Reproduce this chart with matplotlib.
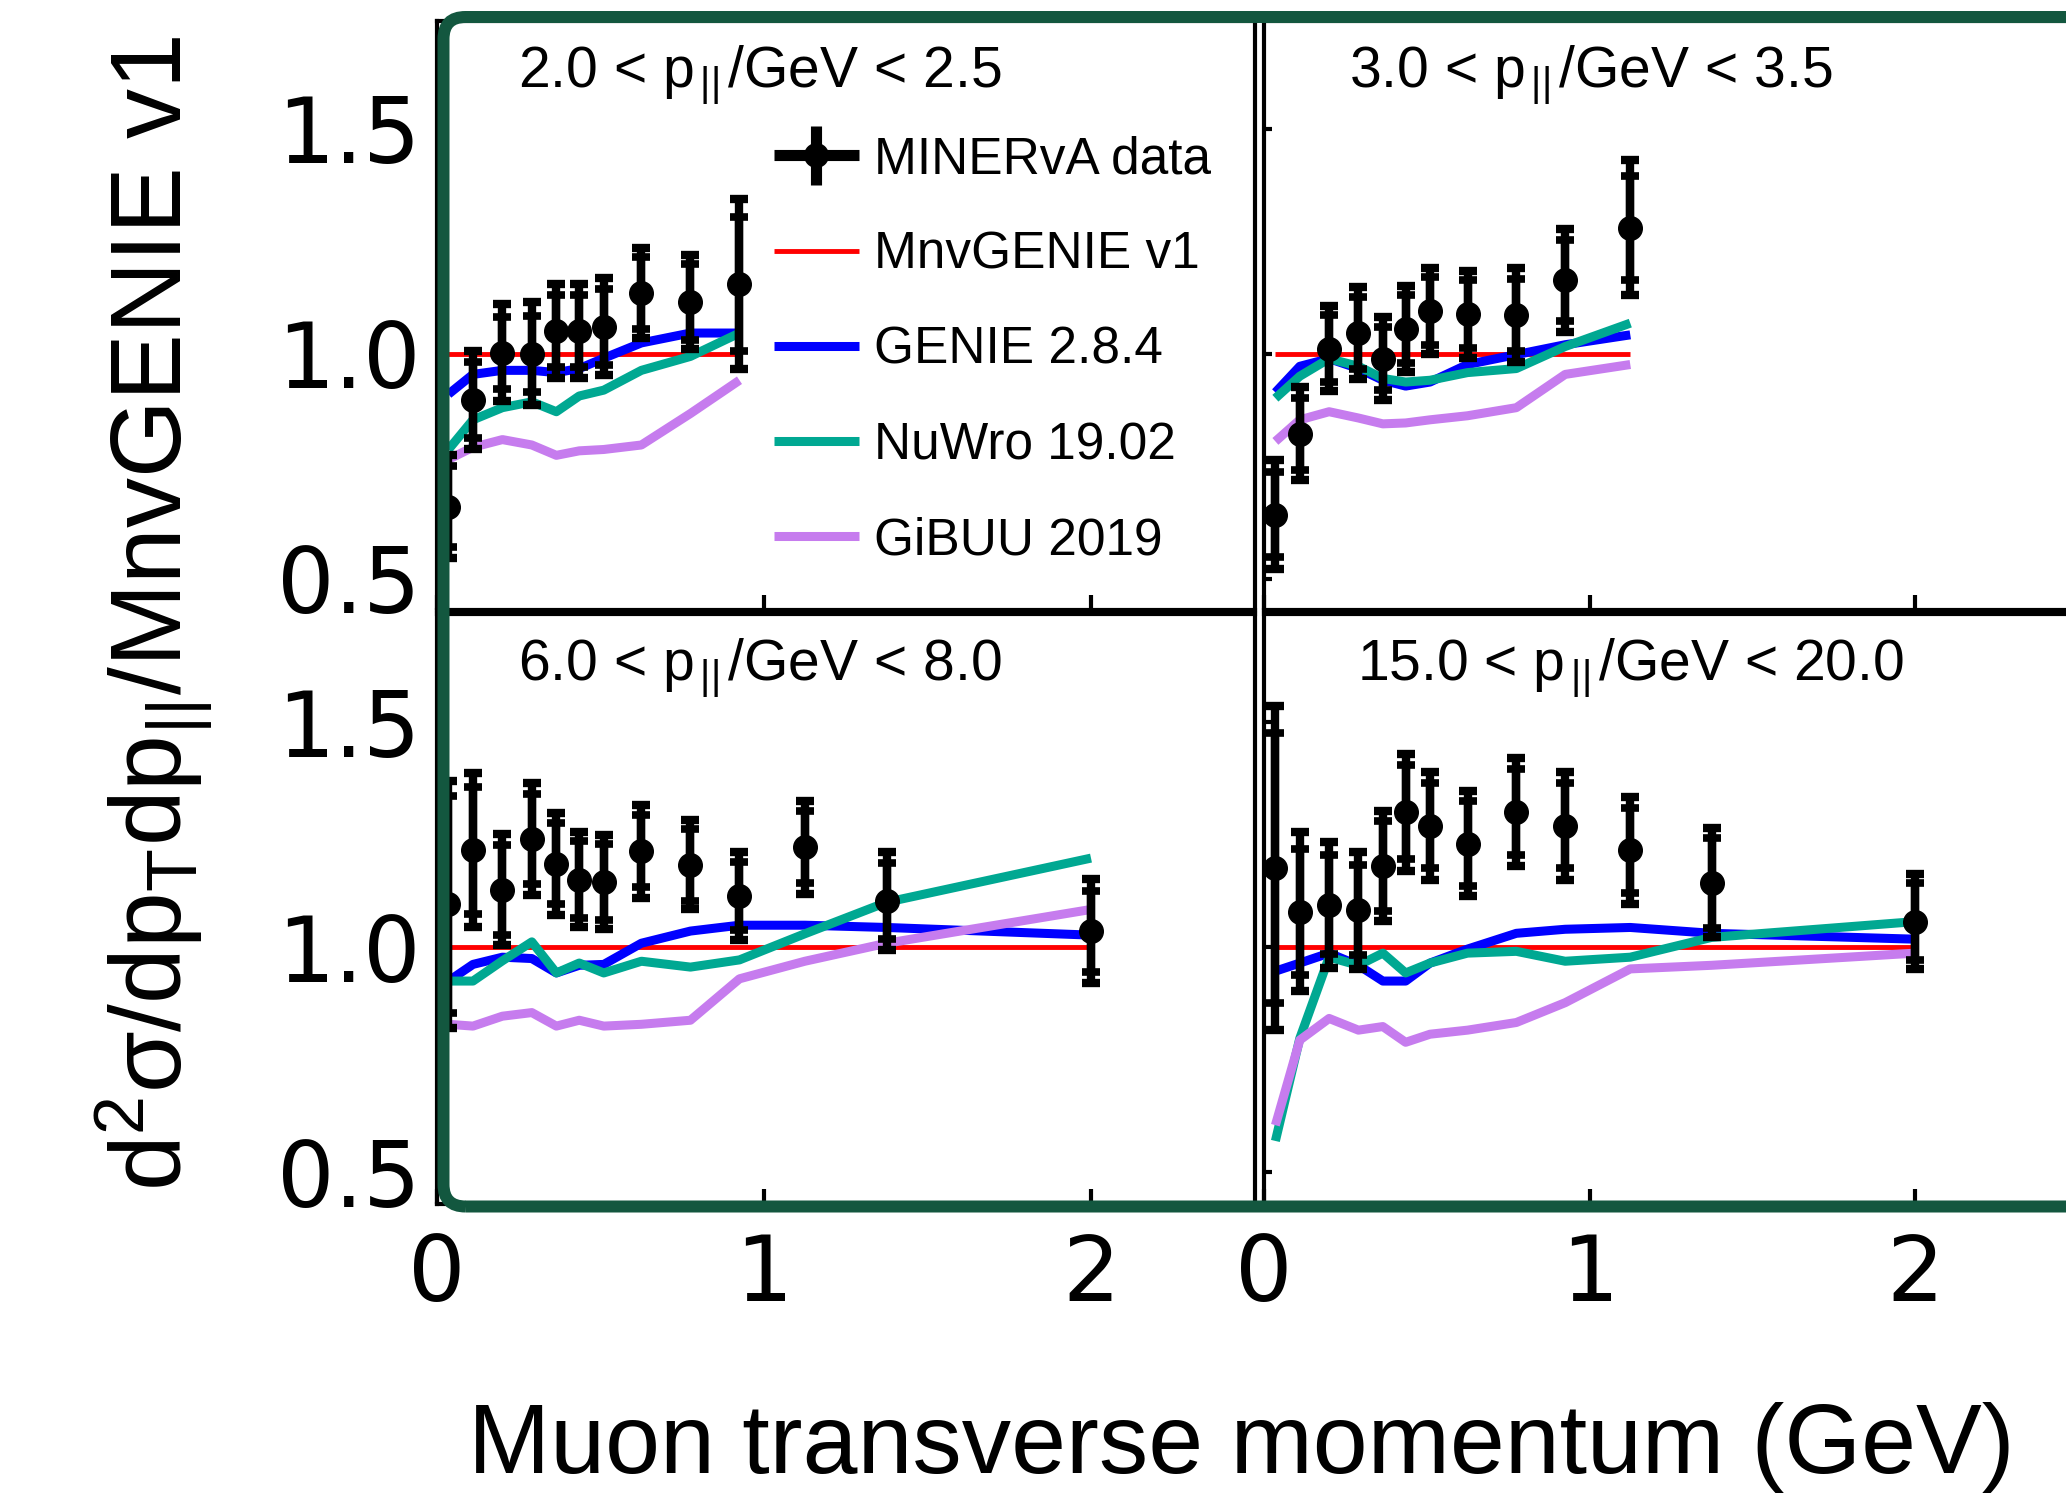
"""Ratio of MINERvA pT cross sections to MnvGENIE v1, four p|| slices."""

import matplotlib
import numpy as np

matplotlib.use("Agg")
import matplotlib.pyplot as plt  # noqa: E402
import matplotlib.transforms as mtransforms  # noqa: E402
from matplotlib.container import ErrorbarContainer  # noqa: E402
from matplotlib.legend_handler import HandlerErrorbar  # noqa: E402
from matplotlib.patches import FancyBboxPatch  # noqa: E402

plt.rcParams["font.family"] = ["Liberation Sans", "DejaVu Sans"]
plt.rcParams["mathtext.fontset"] = "custom"
plt.rcParams["mathtext.rm"] = "Liberation Sans"
plt.rcParams["mathtext.it"] = "Liberation Sans:italic"

# ---------------------------------------------------------------------------
# Data
# ---------------------------------------------------------------------------

PT_CENTERS = [0.035, 0.11, 0.2, 0.29, 0.365, 0.435, 0.51, 0.625, 0.775,
              0.925, 1.125, 1.375, 2.0]

PANEL_TITLES = [
    r"2.0 < p$_{\,||\,}$/GeV < 2.5",
    r"3.0 < p$_{\,||\,}$/GeV < 3.5",
    r"6.0 < p$_{\,||\,}$/GeV < 8.0",
    r"15.0 < p$_{\,||\,}$/GeV < 20.0",
]

SERIES_LABELS = ["MINERvA data", "MnvGENIE v1", "GENIE 2.8.4",
                 "NuWro 19.02", "GiBUU 2019"]

# 2.0 < p|| < 2.5  (10 bins)
DATA_A = [0.66, 0.897, 1.002, 1.0, 1.05, 1.05, 1.06, 1.135, 1.115, 1.155]
TOT_A = [0.115, 0.11, 0.108, 0.115, 0.105, 0.105, 0.108, 0.10, 0.105, 0.19]
STAT_A = [0.09, 0.085, 0.08, 0.085, 0.08, 0.08, 0.085, 0.08, 0.085, 0.15]
MNV_A = [1.0, 1.0, 1.0, 1.0, 1.0, 1.0, 1.0, 1.0, 1.0, 1.0]
GENIE_A = [0.91, 0.954, 0.963, 0.963, 0.958, 0.967, 0.99, 1.024, 1.046, 1.046]
NUWRO_A = [0.787, 0.853, 0.88, 0.893, 0.871, 0.906, 0.919, 0.963, 0.994, 1.046]
GIBUU_A = [0.765, 0.792, 0.809, 0.797, 0.774, 0.784, 0.787, 0.797, 0.867, 0.941]

# 3.0 < p|| < 3.5  (11 bins)
DATA_B = [0.642, 0.822, 1.011, 1.046, 0.989, 1.055, 1.095, 1.088, 1.086,
          1.163, 1.28]
TOT_B = [0.121, 0.103, 0.095, 0.103, 0.092, 0.095, 0.096, 0.097, 0.105,
         0.115, 0.15]
STAT_B = [0.095, 0.08, 0.075, 0.08, 0.07, 0.075, 0.075, 0.075, 0.08, 0.09,
          0.115]
MNV_B = [1.0, 1.0, 1.0, 1.0, 1.0, 1.0, 1.0, 1.0, 1.0, 1.0, 1.0]
GENIE_B = [0.914, 0.972, 0.989, 0.967, 0.941, 0.928, 0.937, 0.976, 0.998,
           1.02, 1.042]
NUWRO_B = [0.901, 0.95, 0.989, 0.972, 0.945, 0.937, 0.941, 0.958, 0.967,
           1.016, 1.068]
GIBUU_B = [0.805, 0.853, 0.871, 0.857, 0.844, 0.846, 0.853, 0.862, 0.88,
           0.954, 0.976]

# 6.0 < p|| < 8.0  (13 bins)
DATA_C = [1.095, 1.215, 1.128, 1.24, 1.185, 1.15, 1.145, 1.213, 1.183,
          1.114, 1.222, 1.103, 1.036]
TOT_C = [0.275, 0.171, 0.123, 0.125, 0.114, 0.105, 0.105, 0.103, 0.099,
         0.097, 0.103, 0.108, 0.115]
STAT_C = [0.24, 0.14, 0.10, 0.10, 0.09, 0.085, 0.085, 0.08, 0.08, 0.075,
          0.08, 0.085, 0.09]
MNV_C = [1.0, 1.0, 1.0, 1.0, 1.0, 1.0, 1.0, 1.0, 1.0, 1.0, 1.0, 1.0, 1.0]
GENIE_C = [0.925, 0.962, 0.978, 0.975, 0.943, 0.96, 0.962, 1.009, 1.036,
           1.049, 1.049, 1.044, 1.027]
NUWRO_C = [0.925, 0.925, 0.97, 1.012, 0.943, 0.965, 0.943, 0.969, 0.956,
           0.972, 1.03, 1.1, 1.198]
GIBUU_C = [0.829, 0.825, 0.847, 0.855, 0.825, 0.838, 0.825, 0.829, 0.838,
           0.93, 0.969, 1.009, 1.084]

# 15.0 < p|| < 20.0  (13 bins)
DATA_D = [1.176, 1.079, 1.094, 1.082, 1.18, 1.30, 1.27, 1.23, 1.30, 1.27,
          1.215, 1.143, 1.057]
TOT_D = [0.36, 0.176, 0.14, 0.13, 0.122, 0.13, 0.12, 0.117, 0.12, 0.12,
         0.118, 0.121, 0.105]
STAT_D = [0.30, 0.14, 0.11, 0.10, 0.10, 0.105, 0.095, 0.095, 0.095, 0.095,
          0.095, 0.10, 0.085]
MNV_D = [1.0, 1.0, 1.0, 1.0, 1.0, 1.0, 1.0, 1.0, 1.0, 1.0, 1.0, 1.0, 1.0]
GENIE_D = [0.947, 0.965, 0.987, 0.96, 0.925, 0.925, 0.965, 0.996, 1.031,
           1.04, 1.044, 1.031, 1.018]
NUWRO_D = [0.57, 0.798, 0.978, 0.96, 0.987, 0.943, 0.965, 0.987, 0.991,
           0.969, 0.978, 1.022, 1.057]
GIBUU_D = [0.605, 0.794, 0.842, 0.816, 0.824, 0.789, 0.807, 0.816, 0.833,
           0.877, 0.952, 0.96, 0.987]

XTICKS = [0, 1, 2]
YTICKS = [0.5, 1.0, 1.5]
YTICK_LABELS = ["0.5", "1.0", "1.5"]

# ---------------------------------------------------------------------------
# Style / layout (pixels of the 2066 x 1494 canvas)
# ---------------------------------------------------------------------------

W, H = 2066, 1494
COLORS = {"mnv": "#ff0000", "genie": "#0000ff", "nuwro": "#00a892",
          "gibuu": "#c67cee"}
FRAME_GREEN = "#13573f"

# (left, top, right, bottom) for each panel
PANEL_BOXES = [(437, 21, 1254.5, 610), (1264, 21, 2078, 610),
               (437, 614, 1254.5, 1204), (1264, 614, 2078, 1204)]
TITLE_X = [0.099, 0.105, 0.099, 0.114]


def px_axes(fig, left, top, right, bottom):
    return fig.add_axes([left / W, 1 - bottom / H, (right - left) / W,
                         (bottom - top) / H])


def draw_panel(ax, data, tot, stat, mnv, genie, nuwro, gibuu):
    n = len(data)
    x = PT_CENTERS[:n]
    kw = dict(solid_capstyle="butt")
    l_mnv, = ax.plot(x, mnv, color=COLORS["mnv"], lw=3.5, zorder=2, **kw)
    l_gen, = ax.plot(x, genie, color=COLORS["genie"], lw=6.5, zorder=3, **kw)
    l_nuw, = ax.plot(x, nuwro, color=COLORS["nuwro"], lw=6.5, zorder=3, **kw)
    l_gib, = ax.plot(x, gibuu, color=COLORS["gibuu"], lw=6.5, zorder=3, **kw)
    ax.errorbar(x, data, yerr=tot, fmt="none", ecolor="k", elinewidth=6,
                capsize=6.5, capthick=6, zorder=5)
    ax.errorbar(x, data, yerr=stat, fmt="o", color="k", ms=17, elinewidth=6,
                capsize=6.5, capthick=5.5, zorder=6)
    return [l_mnv, l_gen, l_nuw, l_gib]


fig = plt.figure(figsize=(W / 100, H / 100), dpi=100)

panels = [
    (DATA_A, TOT_A, STAT_A, MNV_A, GENIE_A, NUWRO_A, GIBUU_A),
    (DATA_B, TOT_B, STAT_B, MNV_B, GENIE_B, NUWRO_B, GIBUU_B),
    (DATA_C, TOT_C, STAT_C, MNV_C, GENIE_C, NUWRO_C, GIBUU_C),
    (DATA_D, TOT_D, STAT_D, MNV_D, GENIE_D, NUWRO_D, GIBUU_D),
]

axes = []
for i, (box, series) in enumerate(zip(PANEL_BOXES, panels)):
    ax = px_axes(fig, *box)
    axes.append(ax)
    lines = draw_panel(ax, *series)
    ax.set_xlim(0, 2.5)
    ax.set_ylim(0.43, 1.74)
    ax.set_xticks(XTICKS)
    ax.set_yticks(YTICKS)
    ax.set_yticklabels(YTICK_LABELS)
    for sp in ax.spines.values():
        sp.set_linewidth(3)
    ax.tick_params(axis="both", direction="in", width=3, colors="k",
                   labelsize=65, labelfontfamily="DejaVu Sans")
    ax.tick_params(axis="x", length=11, pad=20)
    ax.tick_params(axis="y", length=6, pad=12)
    ax.tick_params(labelbottom=(i >= 2), labelleft=(i % 2 == 0))
    ax.text(TITLE_X[i], 0.888, PANEL_TITLES[i], transform=ax.transAxes,
            ha="left", va="baseline", fontsize=41, zorder=8)

    if i == 0:
        proxy = ax.errorbar([np.nan], [np.nan], xerr=[1], yerr=[1], fmt="o",
                            color="k", ms=17, elinewidth=8, capsize=0)
        ax.legend([proxy] + lines, SERIES_LABELS, loc="upper left",
                  bbox_to_anchor=(0.412, 0.806), frameon=False, fontsize=37,
                  handlelength=1.65, handletextpad=0.3, labelspacing=0.9,
                  borderpad=0, borderaxespad=0,
                  handler_map={ErrorbarContainer:
                               HandlerErrorbar(xerr_size=0.83,
                                               yerr_size=0.57)})

fig.text(1241 / W, 1 - 1473 / H, "Muon transverse momentum (GeV)",
         ha="center", va="baseline", fontsize=71)
fig.text(183 / W, 1 - 614 / H,
         r"d$^{2}$σ/dp$_{\mathrm{T}}$dp$_{||}$/MnvGENIE v1",
         rotation=90, rotation_mode="anchor", ha="center", va="baseline",
         fontsize=72)

# rounded highlight frame drawn over the panels
frame = FancyBboxPatch((443.5, H - 1206.5), 2200 - 443.5, 1206.5 - 17,
                       boxstyle="round,pad=0,rounding_size=22",
                       transform=mtransforms.IdentityTransform(), fill=False,
                       ec=FRAME_GREEN, lw=12 * 72 / 100, zorder=10)
fig.add_artist(frame)

fig.savefig("out.png", dpi=100)
